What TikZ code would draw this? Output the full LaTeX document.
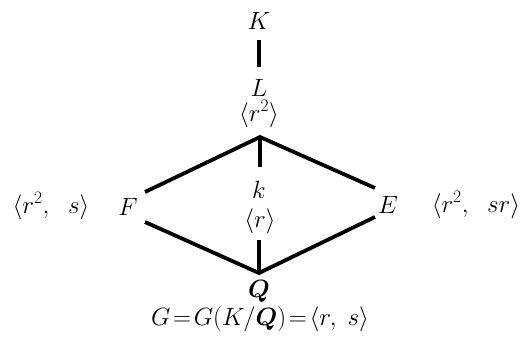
\RequirePackage{fix-cm}
\documentclass[tikz,border=0pt]{standalone}
\usepackage{amsmath,bm}
\begin{document}
\begin{tikzpicture}[x=1pt,y=-1pt,
  lbl/.style={font=\fontsize{25}{30}\selectfont, inner sep=0pt},
  edge/.style={line width=3.8pt}]
\useasboundingbox (0,0) rectangle (523,343);
\node[lbl] (K) at (259,21) {$K$};
\node[lbl] (L) at (259,88) {$L$};
\node[lbl] (H) at (259,114) {$\langle r^2\rangle$};
\coordinate (t) at (260,137);
\node[lbl] (k) at (259,190) {$k$};
\node[lbl] (R) at (260,221) {$\langle r\rangle$};
\coordinate (b) at (259,273);
\node[lbl] (Q) at (259,291) {$\bm{Q}$};
\node[lbl] (G) at (260,319) {$G\!=\!G(K/\bm{Q})\!=\!\langle r,\;s\rangle$};
\node[lbl] (F) at (128,207) {$F$};
\node[lbl] (E) at (388,205) {$E$};
\node[lbl] (FS) at (51,206) {$\langle r^2,\;\ s\rangle$};
\node[lbl] (ES) at (476,205) {$\langle r^2,\;\ sr\rangle$};
\coordinate (Fa) at (145,192);
\coordinate (Fb) at (145,222);
\coordinate (Ea) at (375,188);
\coordinate (Eb) at (375,217);
\coordinate (Kb) at (259,40);
\coordinate (La) at (259,67);
\coordinate (kt) at (260,167);
\coordinate (rb) at (259,240);
\draw[edge] (Kb) -- (La);
\draw[edge] (t) -- (kt);
\draw[edge] (rb) -- (b);
\draw[edge] (Fa) -- (t) -- (Ea);
\draw[edge] (Fb) -- (b) -- (Eb);
\end{tikzpicture}
\end{document}
